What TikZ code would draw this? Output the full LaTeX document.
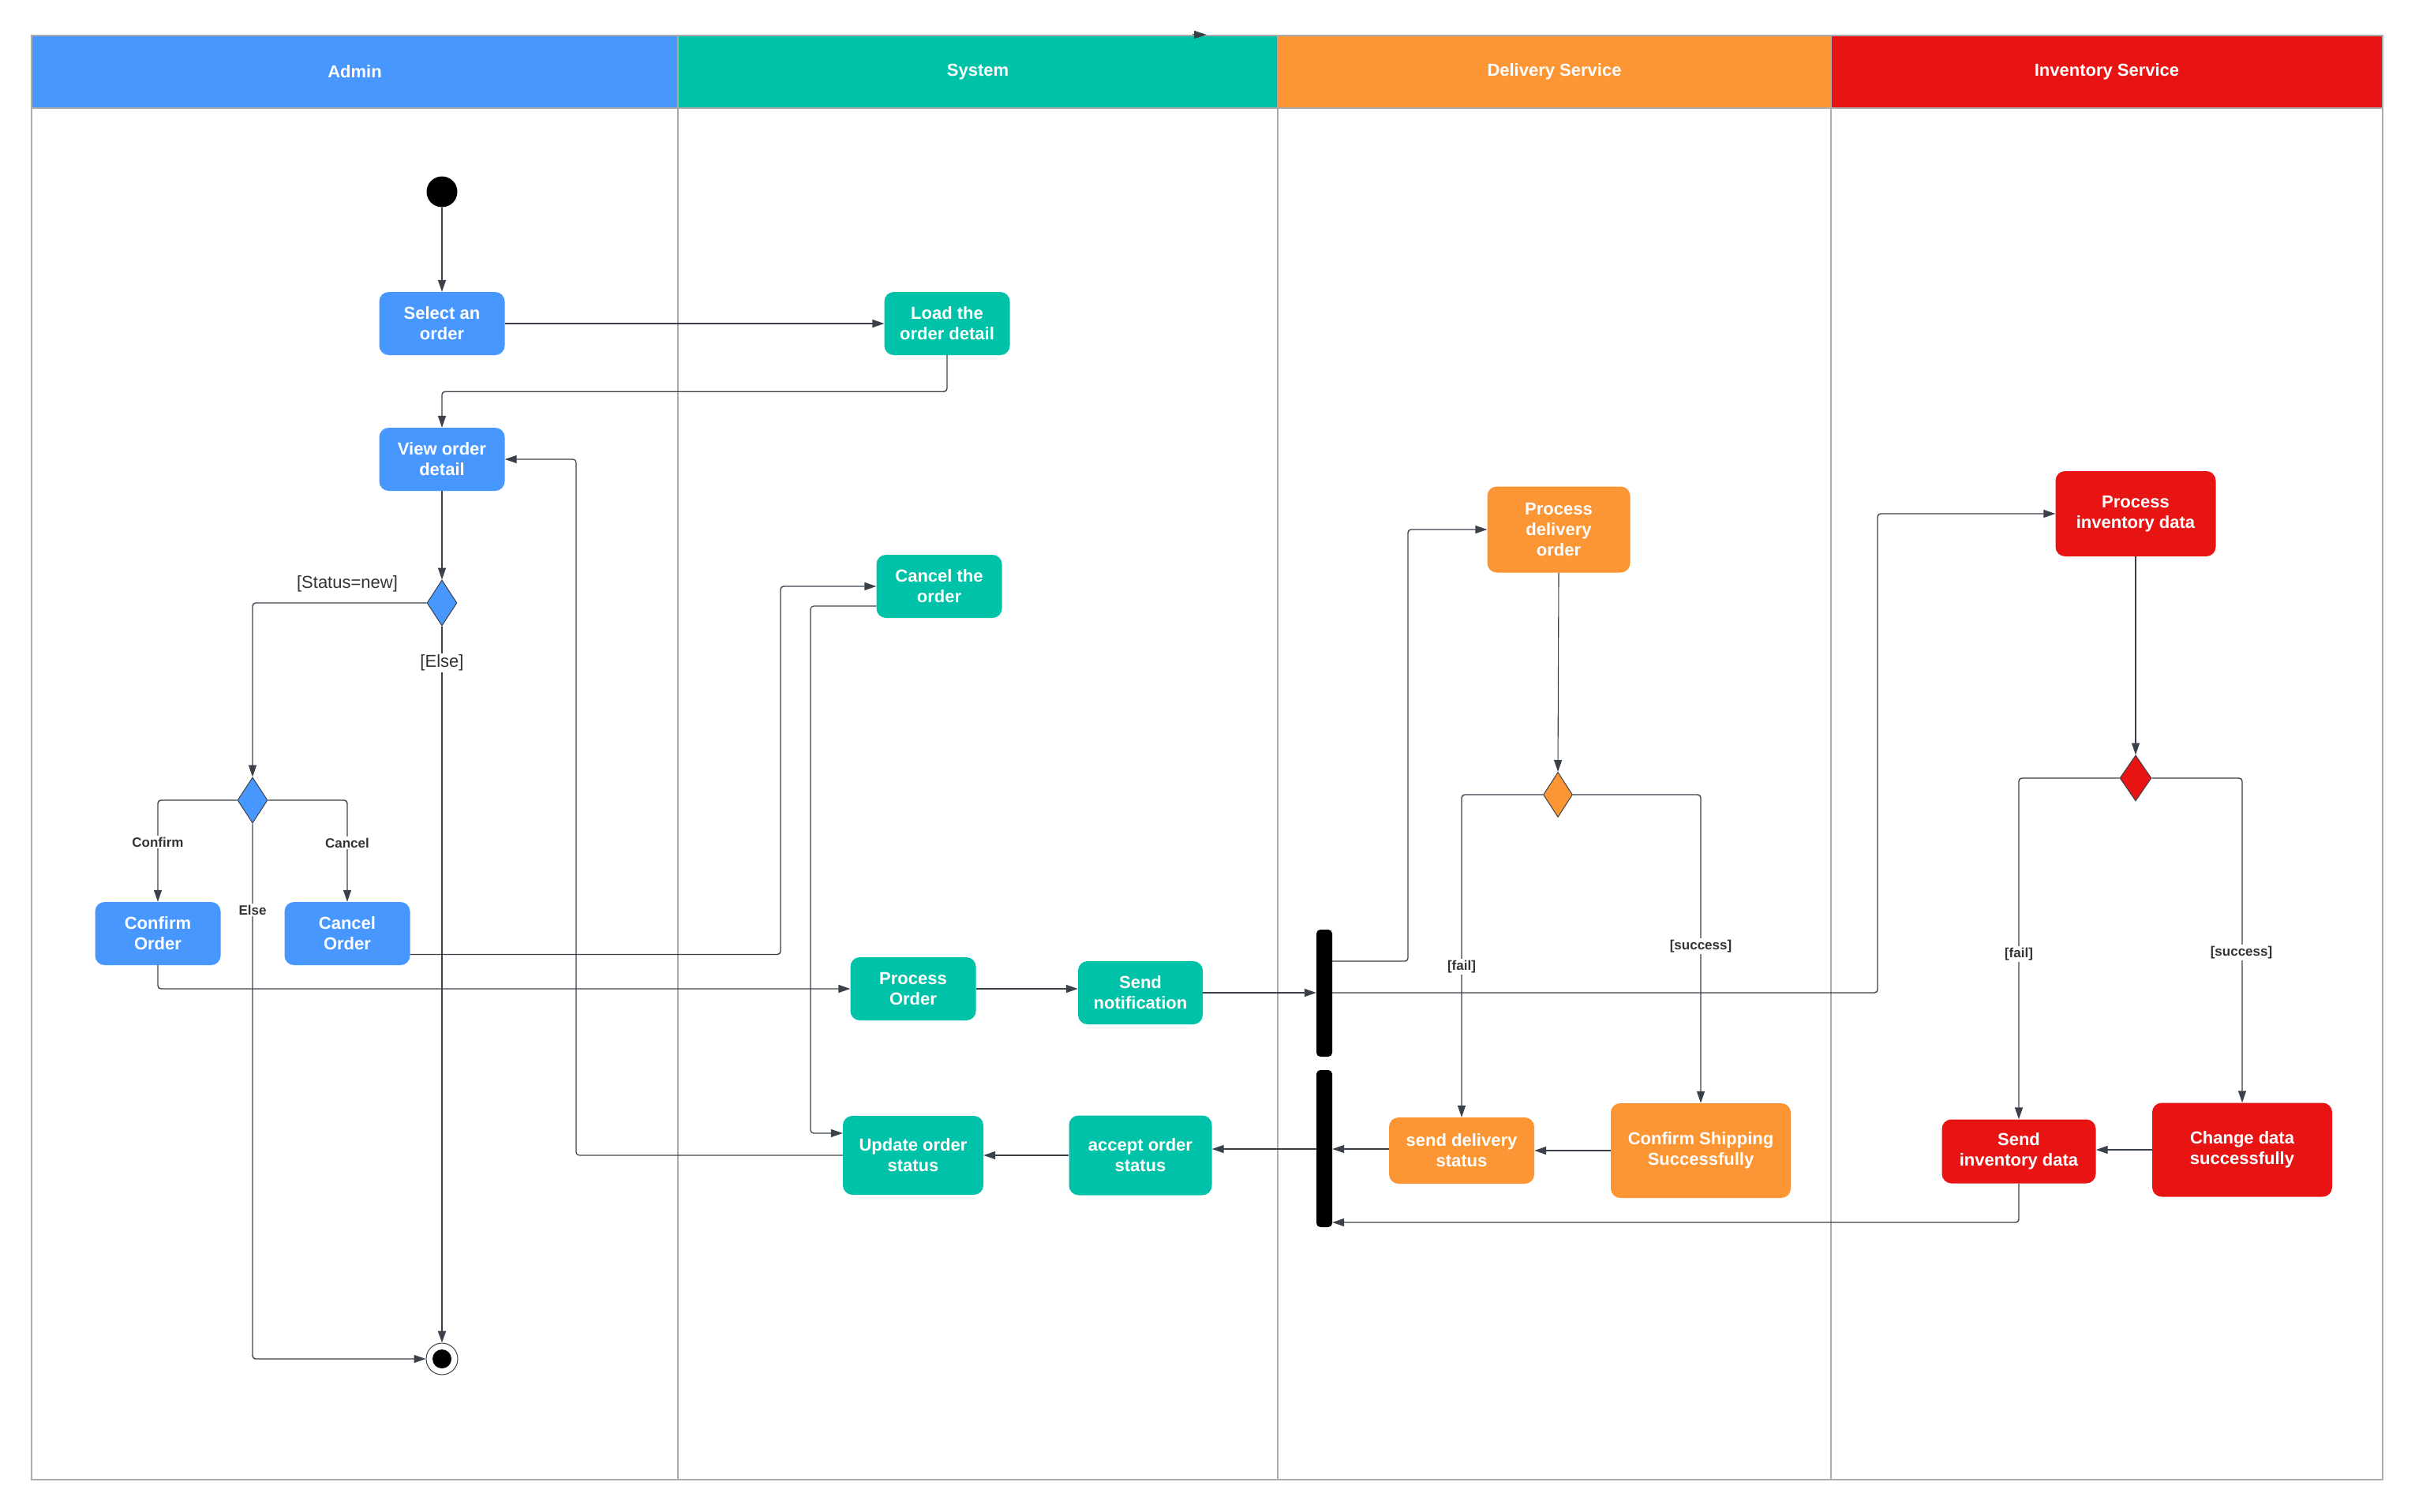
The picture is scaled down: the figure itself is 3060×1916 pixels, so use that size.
\documentclass[tikz,border=0pt]{standalone}
\usepackage{fontspec}
\setmainfont{Liberation Sans}
\usetikzlibrary{shapes.geometric,arrows.meta}
\definecolor{cblue}{HTML}{4797FF}
\definecolor{cteal}{HTML}{00C2A8}
\definecolor{corange}{HTML}{FC9533}
\definecolor{cred}{HTML}{E81414}
\definecolor{linec}{HTML}{3A414A}
\definecolor{framec}{HTML}{ABABAB}
\definecolor{labc}{HTML}{333333}
\begin{document}
\begin{tikzpicture}[x=1pt,y=-1pt,
  act/.style={rectangle,rounded corners=12pt,inner sep=0pt,align=center,text=white,
    font=\fontsize{22}{26}\selectfont\bfseries},
  bluebox/.style={act,fill=cblue},
  tealbox/.style={act,fill=cteal},
  orangebox/.style={act,fill=corange},
  redbox/.style={act,fill=cred},
  decis/.style={diamond,draw=linec,line width=1pt,inner sep=0pt,minimum width=38pt,minimum height=58pt},
  syncbar/.style={rectangle,fill=black,rounded corners=5pt,inner sep=0pt,minimum width=20pt},
  lanehead/.style={rectangle,inner sep=0pt,minimum height=92pt,text=white,
    font=\fontsize{22}{26}\selectfont\bfseries},
  conn/.style={draw=linec,line width=1.4pt,rounded corners=4pt,-{Triangle[length=15pt,width=10pt]}},
  guard/.style={text=labc,font=\fontsize{22}{26}\selectfont,inner sep=2pt},
  smallguard/.style={text=labc,font=\fontsize{17}{20}\selectfont\bfseries,fill=white,inner sep=2pt},
  boldguard/.style={text=labc,font=\fontsize{17}{20}\selectfont\bfseries,fill=white,inner sep=2pt}
]
\useasboundingbox (0,0) rectangle (3060,1916);
\fill[white] (0,0) rectangle (3060,1916);

% lane headers
\node[lanehead,fill=cblue,minimum width=819pt] (hadmin) at (449.5,91) {Admin};
\node[lanehead,fill=cteal,minimum width=760pt] (hsys) at (1239,91) {System};
\node[lanehead,fill=corange,minimum width=701pt] (hdel) at (1969.5,91) {Delivery Service};
\node[lanehead,fill=cred,minimum width=699pt] (hinv) at (2669.5,91) {Inventory Service};

% frame
\draw[framec,line width=2pt] (40,45) rectangle (3019,1875);
\draw[framec,line width=2pt] (40,137) -- (3019,137);
\draw[framec,line width=2pt] (859,45) -- (859,1875);
\draw[framec,line width=2pt] (1619,45) -- (1619,1875);
\draw[framec,line width=2pt] (2320,45) -- (2320,1875);

% stray arrowhead on the top border
\coordinate (stubA) at (1511,44);
\coordinate (stubB) at (1529,44);
\draw[draw=linec,line width=1pt,-{Triangle[length=16pt,width=10pt]}] (stubA) -- (stubB);

% Admin lane
\node[circle,fill=black,inner sep=0pt,minimum size=39pt] (start) at (560,243) {};
\node[bluebox,minimum width=159pt,minimum height=80pt] (select) at (560,410) {Select an\\order};
\node[bluebox,minimum width=159pt,minimum height=80pt] (view) at (560,582) {View order\\detail};
\node[decis,fill=cblue] (d1) at (560,764) {};
\node[decis,fill=cblue] (d2) at (320,1014) {};
\node[bluebox,minimum width=159pt,minimum height=80pt] (confirmo) at (200,1183) {Confirm\\Order};
\node[bluebox,minimum width=159pt,minimum height=80pt] (cancelo) at (440,1183) {Cancel\\Order};
\node[circle,draw=linec,line width=1pt,fill=white,inner sep=0pt,minimum size=40pt] (end) at (560,1722) {};
\fill[black] (end.center) circle (12pt);

% System lane
\node[tealbox,minimum width=159pt,minimum height=80pt] (load) at (1200,410) {Load the\\order detail};
\node[tealbox,minimum width=159pt,minimum height=80pt] (cancelthe) at (1190,743) {Cancel the\\order};
\node[tealbox,minimum width=159pt,minimum height=80pt] (process) at (1157,1253) {Process\\Order};
\node[tealbox,minimum width=158pt,minimum height=80pt] (sendnot) at (1445,1258) {Send\\notification};
\node[tealbox,minimum width=178pt,minimum height=100pt] (update) at (1157,1464) {Update order\\status};
\node[tealbox,minimum width=181pt,minimum height=101pt] (accept) at (1445,1464) {accept order\\status};

% Delivery lane
\node[syncbar,minimum height=161pt] (bar1) at (1678,1258.5) {};
\node[syncbar,minimum height=199pt] (bar2) at (1678,1455.5) {};
\node[orangebox,minimum width=181pt,minimum height=109pt] (pdo) at (1975,671) {Process\\delivery\\order};
\node[decis,fill=corange,minimum width=37pt,minimum height=57pt] (d3) at (1974,1007) {};
\node[orangebox,minimum width=184pt,minimum height=84pt] (senddel) at (1852,1458) {send delivery\\status};
\node[orangebox,minimum width=228pt,minimum height=120pt] (confship) at (2155,1458) {Confirm Shipping\\Successfully};

% Inventory lane
\node[redbox,minimum width=203pt,minimum height=108pt] (pid) at (2706,651) {Process\\inventory data};
\node[decis,fill=cred,minimum width=40pt,minimum height=58pt] (d4) at (2706,986) {};
\node[redbox,minimum width=195pt,minimum height=81pt] (sendinv) at (2558,1459) {Send\\inventory data};
\node[redbox,minimum width=228pt,minimum height=119pt] (change) at (2841,1457) {Change data\\successfully};

% connectors: Admin
\draw[conn] (start) -- (select);
\draw[conn] (select) -- (load);
\draw[conn] (load.south) -- ++(0,46) -| (view.north);
\draw[conn] (view) -- (d1);
\draw[conn] (d1.west) -| (d2.north);
\draw[conn,line width=2.4pt] (d1.south) -- (end.north);
\draw[conn] (d2.west) -| (confirmo.north);
\draw[conn] (d2.east) -| (cancelo.north);
\draw[conn] (d2.south) |- (end.west);
\draw[conn] (cancelo.east |- 0,1209.5) -| (989,743) -- (cancelthe.west);
\draw[conn] (confirmo.south) |- (process.west);
\draw[conn,line width=1.2pt] (cancelthe.west |- 0,768) -| (1027,1436) -- (update.west |- 0,1436);
\draw[conn,line width=1.2pt] (update.west) -| (730,582) -- (view.east);

% guards
\node[guard] (gnew) at (440,740) {[Status=new]};
\node[guard,fill=white] (gelse) at (560,840) {[Else]};
\node[boldguard] (gconf) at (200,1067) {Confirm};
\node[boldguard] (gcanc) at (440,1068) {Cancel};
\node[boldguard] (gels2) at (320,1153) {Else};

% connectors: System / Delivery / Inventory
\draw[conn] (process.east) -- (process.east -| sendnot.west);
\draw[conn] (sendnot.east) -- (sendnot.east -| bar1.west);
\draw[conn] (bar1.east |- 0,1218) -| (1784,671) -- (pdo.west);
\draw[conn] (bar1.east |- sendnot.east) -| (2379,651) -- (pid.west);
\draw[conn,line width=1.1pt] (pdo.south) -- (d3.north);
\draw[conn] (d3.west) -| (senddel.north);
\draw[conn] (d3.east) -| (confship.north);
\draw[conn] (confship.west) -- (confship.west -| senddel.east);
\draw[conn] (senddel.west |- 0,1456) -- (bar2.east |- 0,1456);
\draw[conn] (bar2.west |- 0,1456) -- (accept.east |- 0,1456);
\draw[conn] (accept.west) -- (accept.west -| update.east);
\draw[conn,line width=1.1pt] (pid.south) -- (d4.north);
\draw[conn] (d4.west) -| (sendinv.north);
\draw[conn] (d4.east) -| (change.north);
\draw[conn] (change.west) -- (change.west -| sendinv.east);
\draw[conn] (sendinv.south) |- (bar2.east |- 0,1549);

\node[smallguard] (gfail1) at (1852,1225) {[fail]};
\node[smallguard] (gsucc1) at (2155,1199) {[success]};
\node[smallguard] (gfail2) at (2558,1209) {[fail]};
\node[smallguard] (gsucc2) at (2840,1207) {[success]};
\end{tikzpicture}
\end{document}
